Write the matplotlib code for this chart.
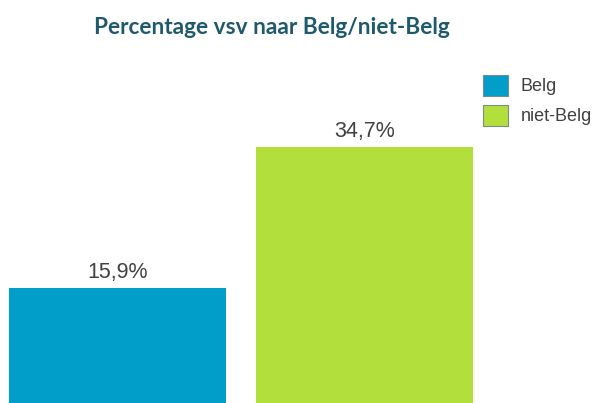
import matplotlib.pyplot as plt
from matplotlib.patches import Patch

categories = ["Belg", "niet-Belg"]
values = [15.9, 34.7]
colors = ["#009ec8", "#b3df3c"]
title = "Percentage vsv naar Belg/niet-Belg"

fig = plt.figure(figsize=(5.98, 4.03), dpi=100)
ax = fig.add_axes([0, 0, 1, 1])
ax.axis('off')

x = list(range(len(values)))
bars = ax.bar(x, values, width=0.88, color=colors)

# baseline sits just under the bottom edge, like the reference crop
ax.set_xlim(-0.476, 1.945)
ax.set_ylim(0.535, 54.4)

for xi, v in zip(x, values):
    ax.annotate(f"{v:.1f}%".replace('.', ','), (xi, v), xytext=(0, 7.5),
                textcoords='offset points', ha='center', va='baseline',
                fontsize=15.5, color='#404040', family='Liberation Sans')

fig.text(272 / 598, 1 - 27 / 403, title, ha='center', va='center',
         fontsize=16.3, fontweight='bold', color='#1f5a6c', family='Lato')

handles = [Patch(facecolor=c, edgecolor='#7a8a8f', linewidth=0.8) for c in colors]
leg = fig.legend(handles, categories, loc='upper left',
                 bbox_to_anchor=(483 / 598, 1 - 75 / 403), frameon=False,
                 prop={'family': 'Liberation Sans', 'size': 13},
                 handlelength=1.4, handleheight=1.4, handletextpad=0.7,
                 labelspacing=0.5, borderpad=0, borderaxespad=0)
for t in leg.get_texts():
    t.set_color('#404040')

plt.savefig("out.png", dpi=100)
